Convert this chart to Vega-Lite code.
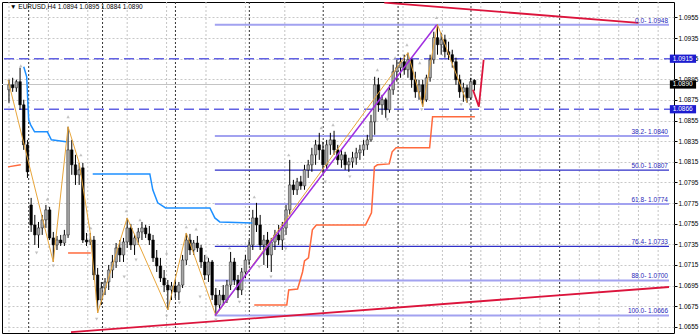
{
"$schema":"https://vega.github.io/schema/vega-lite/v6.json",
"width":672,"height":331,
"autosize":{"type":"none"},
"padding":{"left":2,"top":2,"right":26,"bottom":2},
"background":"#ffffff",
"config":{"view":{"stroke":"#000000","strokeWidth":1},"axis":{"title":null}},
"resolve":{"axis":{"x":"independent","y":"independent"}},
"datasets":{
"k":[
{"i":0,"o":1.08849,"h":1.08946,"l":1.08723,"c":1.08897},
{"i":1,"o":1.08897,"h":1.08965,"l":1.08829,"c":1.08868},
{"i":2,"o":1.08868,"h":1.08946,"l":1.08829,"c":1.08927},
{"i":3,"o":1.08927,"h":1.09063,"l":1.08655,"c":1.08703},
{"i":4,"o":1.08703,"h":1.08752,"l":1.08266,"c":1.08315},
{"i":5,"o":1.08315,"h":1.08363,"l":1.07994,"c":1.08053},
{"i":6,"o":1.07732,"h":1.07800,"l":1.07470,"c":1.07538},
{"i":7,"o":1.07538,"h":1.07635,"l":1.07344,"c":1.07441},
{"i":8,"o":1.07441,"h":1.07567,"l":1.07315,"c":1.07509},
{"i":9,"o":1.07509,"h":1.07635,"l":1.07441,"c":1.07587},
{"i":10,"o":1.07587,"h":1.07732,"l":1.07509,"c":1.07684},
{"i":11,"o":1.07684,"h":1.07713,"l":1.07392,"c":1.07412},
{"i":12,"o":1.07412,"h":1.07470,"l":1.07179,"c":1.07344},
{"i":13,"o":1.07344,"h":1.07431,"l":1.07295,"c":1.07392},
{"i":14,"o":1.07392,"h":1.07441,"l":1.07334,"c":1.07363},
{"i":15,"o":1.07363,"h":1.07490,"l":1.07334,"c":1.07441},
{"i":16,"o":1.07441,"h":1.08490,"l":1.07412,"c":1.08266},
{"i":17,"o":1.08266,"h":1.08363,"l":1.08024,"c":1.08121},
{"i":18,"o":1.08121,"h":1.08218,"l":1.07926,"c":1.08024},
{"i":19,"o":1.08024,"h":1.08140,"l":1.07926,"c":1.08072},
{"i":20,"o":1.08092,"h":1.08140,"l":1.07363,"c":1.07392},
{"i":21,"o":1.07392,"h":1.07460,"l":1.07334,"c":1.07373},
{"i":22,"o":1.07373,"h":1.07460,"l":1.07344,"c":1.07392},
{"i":23,"o":1.07392,"h":1.07431,"l":1.07004,"c":1.07053},
{"i":24,"o":1.07053,"h":1.07121,"l":1.06684,"c":1.06810},
{"i":25,"o":1.06810,"h":1.06985,"l":1.06761,"c":1.06926},
{"i":26,"o":1.06926,"h":1.07023,"l":1.06858,"c":1.06985},
{"i":27,"o":1.06985,"h":1.07150,"l":1.06907,"c":1.07101},
{"i":28,"o":1.07101,"h":1.07247,"l":1.07023,"c":1.07179},
{"i":29,"o":1.07179,"h":1.07363,"l":1.07121,"c":1.07315},
{"i":30,"o":1.07315,"h":1.07392,"l":1.07179,"c":1.07247},
{"i":31,"o":1.07247,"h":1.07412,"l":1.07179,"c":1.07373},
{"i":32,"o":1.07373,"h":1.07606,"l":1.07315,"c":1.07509},
{"i":33,"o":1.07509,"h":1.07548,"l":1.07295,"c":1.07344},
{"i":34,"o":1.07344,"h":1.07451,"l":1.07247,"c":1.07412},
{"i":35,"o":1.07412,"h":1.07509,"l":1.07344,"c":1.07470},
{"i":36,"o":1.07470,"h":1.07567,"l":1.07392,"c":1.07509},
{"i":37,"o":1.07509,"h":1.07538,"l":1.07412,"c":1.07451},
{"i":38,"o":1.07451,"h":1.07528,"l":1.07344,"c":1.07392},
{"i":39,"o":1.07392,"h":1.07441,"l":1.07179,"c":1.07218},
{"i":40,"o":1.07218,"h":1.07295,"l":1.07082,"c":1.07140},
{"i":41,"o":1.07140,"h":1.07218,"l":1.06985,"c":1.07023},
{"i":42,"o":1.07023,"h":1.07101,"l":1.06887,"c":1.06955},
{"i":43,"o":1.06955,"h":1.07004,"l":1.06713,"c":1.06907},
{"i":44,"o":1.06907,"h":1.06985,"l":1.06810,"c":1.06946},
{"i":45,"o":1.06946,"h":1.07004,"l":1.06829,"c":1.06887},
{"i":46,"o":1.06887,"h":1.06985,"l":1.06810,"c":1.06955},
{"i":47,"o":1.06955,"h":1.07247,"l":1.06926,"c":1.07198},
{"i":48,"o":1.07198,"h":1.07460,"l":1.07150,"c":1.07392},
{"i":49,"o":1.07392,"h":1.07451,"l":1.07247,"c":1.07295},
{"i":50,"o":1.07295,"h":1.07392,"l":1.07247,"c":1.07363},
{"i":51,"o":1.07363,"h":1.07431,"l":1.07276,"c":1.07315},
{"i":52,"o":1.07315,"h":1.07344,"l":1.07121,"c":1.07179},
{"i":53,"o":1.07179,"h":1.07247,"l":1.07004,"c":1.07053},
{"i":54,"o":1.07053,"h":1.07218,"l":1.06985,"c":1.07179},
{"i":55,"o":1.07179,"h":1.07198,"l":1.06810,"c":1.06858},
{"i":56,"o":1.06858,"h":1.06926,"l":1.06660,"c":1.06761},
{"i":57,"o":1.06761,"h":1.06907,"l":1.06713,"c":1.06858},
{"i":58,"o":1.06858,"h":1.06955,"l":1.06761,"c":1.06810},
{"i":59,"o":1.06810,"h":1.07004,"l":1.06781,"c":1.06955},
{"i":60,"o":1.06955,"h":1.07276,"l":1.06907,"c":1.07179},
{"i":61,"o":1.07179,"h":1.07218,"l":1.06955,"c":1.07004},
{"i":62,"o":1.07004,"h":1.07053,"l":1.06829,"c":1.06907},
{"i":63,"o":1.06907,"h":1.07121,"l":1.06858,"c":1.07082},
{"i":64,"o":1.07082,"h":1.07247,"l":1.07023,"c":1.07198},
{"i":65,"o":1.07198,"h":1.07392,"l":1.07150,"c":1.07344},
{"i":66,"o":1.07344,"h":1.07684,"l":1.07295,"c":1.07606},
{"i":67,"o":1.07606,"h":1.07752,"l":1.07470,"c":1.07538},
{"i":68,"o":1.07538,"h":1.07635,"l":1.07295,"c":1.07344},
{"i":69,"o":1.07344,"h":1.07441,"l":1.07150,"c":1.07392},
{"i":70,"o":1.07392,"h":1.07470,"l":1.07121,"c":1.07247},
{"i":71,"o":1.07247,"h":1.07412,"l":1.07082,"c":1.07373},
{"i":72,"o":1.07373,"h":1.07490,"l":1.07295,"c":1.07441},
{"i":73,"o":1.07441,"h":1.07538,"l":1.07344,"c":1.07392},
{"i":74,"o":1.07392,"h":1.07567,"l":1.07295,"c":1.07509},
{"i":75,"o":1.07509,"h":1.07732,"l":1.07441,"c":1.07684},
{"i":76,"o":1.07684,"h":1.08169,"l":1.07635,"c":1.07926},
{"i":77,"o":1.07926,"h":1.07975,"l":1.07829,"c":1.07879},
{"i":78,"o":1.07879,"h":1.07994,"l":1.07829,"c":1.07956},
{"i":79,"o":1.07956,"h":1.08014,"l":1.07879,"c":1.07917},
{"i":80,"o":1.07917,"h":1.08121,"l":1.07879,"c":1.08072},
{"i":81,"o":1.08072,"h":1.08169,"l":1.07994,"c":1.08121},
{"i":82,"o":1.08121,"h":1.08286,"l":1.08053,"c":1.08218},
{"i":83,"o":1.08218,"h":1.08363,"l":1.08121,"c":1.08315},
{"i":84,"o":1.08315,"h":1.08431,"l":1.08169,"c":1.08266},
{"i":85,"o":1.08266,"h":1.08344,"l":1.08043,"c":1.08121},
{"i":86,"o":1.08121,"h":1.08363,"l":1.08072,"c":1.08315},
{"i":87,"o":1.08315,"h":1.08431,"l":1.08218,"c":1.08363},
{"i":88,"o":1.08363,"h":1.08451,"l":1.08218,"c":1.08266},
{"i":89,"o":1.08266,"h":1.08315,"l":1.08121,"c":1.08169},
{"i":90,"o":1.08169,"h":1.08266,"l":1.08092,"c":1.08218},
{"i":91,"o":1.08218,"h":1.08247,"l":1.08072,"c":1.08121},
{"i":92,"o":1.08121,"h":1.08189,"l":1.08053,"c":1.08150},
{"i":93,"o":1.08150,"h":1.08247,"l":1.08092,"c":1.08189},
{"i":94,"o":1.08189,"h":1.08286,"l":1.08121,"c":1.08237},
{"i":95,"o":1.08237,"h":1.08315,"l":1.08169,"c":1.08266},
{"i":96,"o":1.08266,"h":1.08363,"l":1.08208,"c":1.08315},
{"i":97,"o":1.08315,"h":1.08412,"l":1.08266,"c":1.08363},
{"i":98,"o":1.08363,"h":1.08606,"l":1.08344,"c":1.08538},
{"i":99,"o":1.08538,"h":1.08975,"l":1.08412,"c":1.08897},
{"i":100,"o":1.08897,"h":1.08965,"l":1.08635,"c":1.08703},
{"i":101,"o":1.08703,"h":1.08800,"l":1.08606,"c":1.08752},
{"i":102,"o":1.08752,"h":1.08771,"l":1.08577,"c":1.08655},
{"i":103,"o":1.08655,"h":1.08897,"l":1.08626,"c":1.08849},
{"i":104,"o":1.08849,"h":1.09092,"l":1.08800,"c":1.09024},
{"i":105,"o":1.09024,"h":1.09140,"l":1.08927,"c":1.09063},
{"i":106,"o":1.09063,"h":1.09160,"l":1.08965,"c":1.09121},
{"i":107,"o":1.09121,"h":1.09189,"l":1.08995,"c":1.09043},
{"i":108,"o":1.09043,"h":1.09208,"l":1.08965,"c":1.09140},
{"i":109,"o":1.09140,"h":1.09160,"l":1.08868,"c":1.08946},
{"i":110,"o":1.08946,"h":1.09024,"l":1.08771,"c":1.08829},
{"i":111,"o":1.08829,"h":1.08946,"l":1.08752,"c":1.08897},
{"i":112,"o":1.08897,"h":1.08946,"l":1.08684,"c":1.08752},
{"i":113,"o":1.08752,"h":1.08995,"l":1.08732,"c":1.08965},
{"i":114,"o":1.08965,"h":1.09189,"l":1.08927,"c":1.09140},
{"i":115,"o":1.09140,"h":1.09412,"l":1.09101,"c":1.09354},
{"i":116,"o":1.09354,"h":1.09480,"l":1.09189,"c":1.09286},
{"i":117,"o":1.09286,"h":1.09402,"l":1.09189,"c":1.09334},
{"i":118,"o":1.09334,"h":1.09383,"l":1.09160,"c":1.09218},
{"i":119,"o":1.09218,"h":1.09315,"l":1.09140,"c":1.09189},
{"i":120,"o":1.09189,"h":1.09237,"l":1.09063,"c":1.09121},
{"i":121,"o":1.09121,"h":1.09160,"l":1.08897,"c":1.08946},
{"i":122,"o":1.08946,"h":1.08995,"l":1.08771,"c":1.08829},
{"i":123,"o":1.08829,"h":1.08917,"l":1.08732,"c":1.08868},
{"i":124,"o":1.08868,"h":1.08897,"l":1.08723,"c":1.08771},
{"i":125,"o":1.08771,"h":1.08965,"l":1.08752,"c":1.08927},
{"i":126,"o":1.0894,"h":1.0895,"l":1.0884,"c":1.0890}
],
"vlight":[{"i":0},{"i":10.667},{"i":21.333},{"i":32},{"i":42.667},{"i":53.333},{"i":64},{"i":74.667},{"i":96},{"i":106.667},{"i":117.333},{"i":127.733},{"i":133.067},{"i":138.4},{"i":143.733},{"i":154.4},{"i":159.733},{"i":165.067},{"i":170.4},{"i":175.733}],
"vdark":[{"i":5.333},{"i":25.333},{"i":45.067},{"i":65.067},{"i":85.067},{"i":105.333},{"i":125.067},{"i":149.067}],
"dash":[{"p":1.0915},{"p":1.0866}],
"cur":[{"p":1.0890}],
"fib":[
{"x0":55.73,"x1":178.67,"p":1.0948,"k":"a","t":"0.0- 1.0948"},
{"x0":55.73,"x1":178.67,"p":1.0840,"k":"a","t":"38.2- 1.0840"},
{"x0":55.73,"x1":178.67,"p":1.0807,"k":"b","t":"50.0- 1.0807"},
{"x0":55.73,"x1":178.67,"p":1.0774,"k":"a","t":"61.8- 1.0774"},
{"x0":55.73,"x1":178.67,"p":1.0733,"k":"b","t":"76.4- 1.0733"},
{"x0":55.73,"x1":178.67,"p":1.0700,"k":"a","t":"88.0- 1.0700"},
{"x0":55.73,"x1":178.67,"p":1.0666,"k":"a","t":"100.0- 1.0666"}
],
"zig":[{"i":-0.27,"p":1.08946},{"i":12,"p":1.07179},{"i":16,"p":1.0849},{"i":19,"p":1.0814},{"i":22,"p":1.0746},{"i":24,"p":1.06684},{"i":32,"p":1.07606},{"i":43,"p":1.06713},{"i":48,"p":1.0746},{"i":56,"p":1.0666},{"i":108,"p":1.09208},{"i":112,"p":1.08684},{"i":116,"p":1.0948},{"i":124,"p":1.08723}],
"blue":[
{"s":"a","i":4.0,"p":1.09072},{"s":"a","i":4.8,"p":1.08975},{"s":"a","i":5.33,"p":1.08558},{"s":"a","i":5.87,"p":1.08509},{"s":"a","i":6.93,"p":1.08441},{"s":"a","i":10.4,"p":1.08441},{"s":"a","i":11.47,"p":1.08363},{"s":"a","i":15.47,"p":1.08344},
{"s":"b","i":22.67,"p":1.08033},{"s":"b","i":38.13,"p":1.08033},{"s":"b","i":38.93,"p":1.07879},{"s":"b","i":40.27,"p":1.07752},{"s":"b","i":42.4,"p":1.07703},{"s":"b","i":54.4,"p":1.07703},{"s":"b","i":55.73,"p":1.07606},{"s":"b","i":57.07,"p":1.07567},{"s":"b","i":65.87,"p":1.07557}
],
"red":[
{"s":"a","i":-0.27,"p":1.08101},{"s":"a","i":3.2,"p":1.08121},
{"s":"b","i":16,"p":1.07266},{"s":"b","i":22.13,"p":1.07266},
{"s":"c","i":66.4,"p":1.06761},{"s":"c","i":75.2,"p":1.06761},{"s":"c","i":75.73,"p":1.06907},{"s":"c","i":78.13,"p":1.06917},{"s":"c","i":79.47,"p":1.07082},{"s":"c","i":80,"p":1.07188},{"s":"c","i":81.07,"p":1.07218},{"s":"c","i":82.13,"p":1.0749},{"s":"c","i":83.2,"p":1.07538},{"s":"c","i":96.53,"p":1.07538},{"s":"c","i":98.13,"p":1.07655},{"s":"c","i":98.93,"p":1.08101},{"s":"c","i":99.73,"p":1.08121},{"s":"c","i":102.93,"p":1.0813},{"s":"c","i":103.73,"p":1.08247},{"s":"c","i":104.8,"p":1.08286},{"s":"c","i":113.87,"p":1.08286},{"s":"c","i":114.67,"p":1.08587},{"s":"c","i":126.13,"p":1.08587}
],
"purple":[{"i":55.73,"p":1.0666},{"i":115.8,"p":1.0948}],
"crim":[
{"g":"t","i":101.6,"p":1.09694},{"g":"t","i":170.4,"p":1.09497},
{"g":"b","i":16.8,"p":1.06499},{"g":"b","i":178.67,"p":1.06936},
{"g":"v","i":125.6,"p":1.08849},{"g":"v","i":127.2,"p":1.08684},{"g":"v","i":128.5,"p":1.0914}
],
"arrows":[
{"i":3.2,"p":1.09082,"d":"u"},{"i":10.4,"p":1.0779,"d":"u"},{"i":16.0,"p":1.08587,"d":"u"},{"i":19.47,"p":1.08218,"d":"u"},{"i":22.13,"p":1.07509,"d":"u"},{"i":31.73,"p":1.07674,"d":"u"},{"i":35.47,"p":1.07587,"d":"u"},{"i":42.67,"p":1.07266,"d":"u"},{"i":48.0,"p":1.07519,"d":"u"},{"i":50.67,"p":1.07499,"d":"u"},{"i":53.6,"p":1.07227,"d":"u"},{"i":59.73,"p":1.07315,"d":"u"},{"i":66.4,"p":1.0781,"d":"u"},{"i":75.73,"p":1.08218,"d":"u"},{"i":84.53,"p":1.0848,"d":"u"},{"i":87.73,"p":1.08509,"d":"u"},{"i":99.73,"p":1.09043,"d":"u"},{"i":104.53,"p":1.0916,"d":"u"},{"i":107.73,"p":1.09286,"d":"u"},{"i":111.2,"p":1.09111,"d":"u"},{"i":115.73,"p":1.09548,"d":"u"},
{"i":7.47,"p":1.07266,"d":"d"},{"i":12.0,"p":1.0714,"d":"d"},{"i":23.73,"p":1.06625,"d":"d"},{"i":31.2,"p":1.07033,"d":"d"},{"i":34.4,"p":1.07198,"d":"d"},{"i":42.67,"p":1.06654,"d":"d"},{"i":46.13,"p":1.06781,"d":"d"},{"i":51.73,"p":1.06839,"d":"d"},{"i":56,"p":1.06616,"d":"d"},{"i":62.4,"p":1.0679,"d":"d"},{"i":67.73,"p":1.0713,"d":"d"},{"i":70.93,"p":1.07033,"d":"d"},{"i":74.93,"p":1.07305,"d":"d"},{"i":85.6,"p":1.07956,"d":"d"},{"i":92.27,"p":1.08004,"d":"d"},{"i":102.4,"p":1.08558,"d":"d"},{"i":111.73,"p":1.08655,"d":"d"},{"i":122.4,"p":1.08703,"d":"d"},{"i":124.8,"p":1.08703,"d":"d"}
],
"boxes":[
{"i0":178.9,"i1":186,"lo":1.0911,"hi":1.0919,"p":1.0915,"ti":179.7,"t":"1.0915","k":"blue"},
{"i0":178.9,"i1":186,"lo":1.0862,"hi":1.0870,"p":1.0866,"ti":179.7,"t":"1.0866","k":"blue"},
{"i0":178.9,"i1":186,"lo":1.0886,"hi":1.0894,"p":1.0890,"ti":179.7,"t":"1.0890","k":"black"}
],
"title":[{"i":0.3,"p":1.09655,"t":"▼ EURUSD,H4  1.0894 1.0895 1.0884 1.0890"}]
},
"layer":[
{"data":{"name":"vlight"},"mark":{"type":"rule","color":"#c4c4c4","strokeDash":[2,2],"strokeWidth":1},
 "encoding":{"x":{"field":"i","type":"quantitative","scale":{"domain":[-0.533,178.67],"nice":false,"zero":false},"axis":null}}},
{"data":{"name":"vdark"},"mark":{"type":"rule","color":"#333333","strokeDash":[2,2],"strokeWidth":1},
 "encoding":{"x":{"field":"i","type":"quantitative","scale":{"domain":[-0.533,178.67],"nice":false,"zero":false},"axis":null}}},
{"data":{"name":"dash"},"mark":{"type":"rule","color":"#6262e4","strokeDash":[10,5],"strokeWidth":1.5},
 "encoding":{"y":{"field":"p","type":"quantitative","scale":{"domain":[1.0649,1.097],"nice":false,"zero":false},
   "axis":{"orient":"right","values":[1.0655,1.0675,1.0695,1.0715,1.0735,1.0755,1.0775,1.0795,1.0815,1.0835,1.0855,1.0875,1.0895,1.0915,1.0935,1.0955],"format":".4f","grid":true,"gridColor":"#c8c8c8","gridDash":[2,2],"gridWidth":1,"labelOverlap":false,"labelFlush":false,"labelBound":false,"labelFont":"Liberation Sans","labelFontSize":6.5,"labelColor":"#000000","tickSize":3,"tickColor":"#000000","domain":false,"labelPadding":1,"zindex":0,"title":null}}}},
{"data":{"name":"cur"},"mark":{"type":"rule","color":"#c4c4c4","strokeWidth":1},
 "encoding":{"y":{"field":"p","type":"quantitative","scale":{"domain":[1.0649,1.097],"nice":false,"zero":false},"axis":null}}},
{"data":{"name":"fib"},"mark":{"type":"rule"},
 "encoding":{"x":{"field":"x0","type":"quantitative","scale":{"domain":[-0.533,178.67],"nice":false,"zero":false},"axis":null},"x2":{"field":"x1"},
  "y":{"field":"p","type":"quantitative","scale":{"domain":[1.0649,1.097],"nice":false,"zero":false},"axis":null},
  "color":{"condition":{"test":"datum.k === 'a'","value":"#a2a2f0"},"value":"#3030c8"},
  "strokeWidth":{"condition":{"test":"datum.k === 'a'","value":2},"value":1.3}}},
{"data":{"name":"k"},"mark":{"type":"rule","color":"#000000","strokeWidth":1},
 "encoding":{"x":{"field":"i","type":"quantitative","scale":{"domain":[-0.533,178.67],"nice":false,"zero":false},"axis":null},
  "y":{"field":"l","type":"quantitative","scale":{"domain":[1.0649,1.097],"nice":false,"zero":false},"axis":null},"y2":{"field":"h"}}},
{"data":{"name":"k"},"mark":{"type":"bar","width":2.6,"strokeWidth":0.5},
 "encoding":{"x":{"field":"i","type":"quantitative","scale":{"domain":[-0.533,178.67],"nice":false,"zero":false},"axis":null},
  "y":{"field":"o","type":"quantitative","scale":{"domain":[1.0649,1.097],"nice":false,"zero":false},"axis":null},"y2":{"field":"c"},
  "fill":{"condition":{"test":"datum.c >= datum.o","value":"#a8a8a8"},"value":"#000000"},
  "stroke":{"condition":{"test":"datum.c >= datum.o","value":"#202020"},"value":"#000000"}}},
{"data":{"name":"zig"},"mark":{"type":"line","color":"#e8a63c","strokeWidth":1,"clip":true},
 "encoding":{"x":{"field":"i","type":"quantitative","scale":{"domain":[-0.533,178.67],"nice":false,"zero":false},"axis":null},
  "y":{"field":"p","type":"quantitative","scale":{"domain":[1.0649,1.097],"nice":false,"zero":false},"axis":null},"order":{"field":"i"}}},
{"data":{"name":"blue"},"mark":{"type":"line","color":"#1e90ff","strokeWidth":1.5,"clip":true},
 "encoding":{"x":{"field":"i","type":"quantitative","scale":{"domain":[-0.533,178.67],"nice":false,"zero":false},"axis":null},
  "y":{"field":"p","type":"quantitative","scale":{"domain":[1.0649,1.097],"nice":false,"zero":false},"axis":null},"detail":{"field":"s"},"order":{"field":"i"}}},
{"data":{"name":"red"},"mark":{"type":"line","color":"#ff6a3d","strokeWidth":1.5,"clip":true},
 "encoding":{"x":{"field":"i","type":"quantitative","scale":{"domain":[-0.533,178.67],"nice":false,"zero":false},"axis":null},
  "y":{"field":"p","type":"quantitative","scale":{"domain":[1.0649,1.097],"nice":false,"zero":false},"axis":null},"detail":{"field":"s"},"order":{"field":"i"}}},
{"data":{"name":"purple"},"mark":{"type":"line","color":"#a02ee0","strokeWidth":1.5,"clip":true},
 "encoding":{"x":{"field":"i","type":"quantitative","scale":{"domain":[-0.533,178.67],"nice":false,"zero":false},"axis":null},
  "y":{"field":"p","type":"quantitative","scale":{"domain":[1.0649,1.097],"nice":false,"zero":false},"axis":null}}},
{"data":{"name":"crim"},"mark":{"type":"line","color":"#dc143c","strokeWidth":1.8,"clip":true},
 "encoding":{"x":{"field":"i","type":"quantitative","scale":{"domain":[-0.533,178.67],"nice":false,"zero":false},"axis":null},
  "y":{"field":"p","type":"quantitative","scale":{"domain":[1.0649,1.097],"nice":false,"zero":false},"axis":null},"detail":{"field":"g"},"order":{"field":"i"}}},
{"data":{"name":"arrows"},"mark":{"type":"point","filled":true,"color":"#a8a8a8","size":11,"clip":true},
 "encoding":{"x":{"field":"i","type":"quantitative","scale":{"domain":[-0.533,178.67],"nice":false,"zero":false},"axis":null},
  "y":{"field":"p","type":"quantitative","scale":{"domain":[1.0649,1.097],"nice":false,"zero":false},"axis":null},
  "shape":{"field":"d","type":"nominal","scale":{"domain":["u","d"],"range":["triangle-up","triangle-down"]},"legend":null}}},
{"data":{"name":"fib"},"mark":{"type":"text","align":"right","baseline":"bottom","dy":-1,"font":"Liberation Sans","fontSize":6.5,"color":"#2828b8"},
 "encoding":{"x":{"datum":178.4,"type":"quantitative","scale":{"domain":[-0.533,178.67],"nice":false,"zero":false},"axis":null},
  "y":{"field":"p","type":"quantitative","scale":{"domain":[1.0649,1.097],"nice":false,"zero":false},"axis":null},"text":{"field":"t"}}},
{"data":{"name":"boxes"},"mark":{"type":"rect"},
 "encoding":{"x":{"field":"i0","type":"quantitative","scale":{"domain":[-0.533,178.67],"nice":false,"zero":false},"axis":null},"x2":{"field":"i1"},
  "y":{"field":"lo","type":"quantitative","scale":{"domain":[1.0649,1.097],"nice":false,"zero":false},"axis":null},"y2":{"field":"hi"},
  "color":{"condition":{"test":"datum.k === 'blue'","value":"#1c1cd0"},"value":"#000000"}}},
{"data":{"name":"boxes"},"mark":{"type":"text","align":"left","baseline":"middle","font":"Liberation Sans","fontSize":6.5,"color":"#ffffff"},
 "encoding":{"x":{"field":"ti","type":"quantitative","scale":{"domain":[-0.533,178.67],"nice":false,"zero":false},"axis":null},
  "y":{"field":"p","type":"quantitative","scale":{"domain":[1.0649,1.097],"nice":false,"zero":false},"axis":null},"text":{"field":"t"}}},
{"data":{"name":"title"},"mark":{"type":"text","align":"left","baseline":"middle","font":"Liberation Sans","fontSize":6.5,"color":"#000000"},
 "encoding":{"x":{"field":"i","type":"quantitative","scale":{"domain":[-0.533,178.67],"nice":false,"zero":false},"axis":null},
  "y":{"field":"p","type":"quantitative","scale":{"domain":[1.0649,1.097],"nice":false,"zero":false},"axis":null},"text":{"field":"t"}}}
]
}
